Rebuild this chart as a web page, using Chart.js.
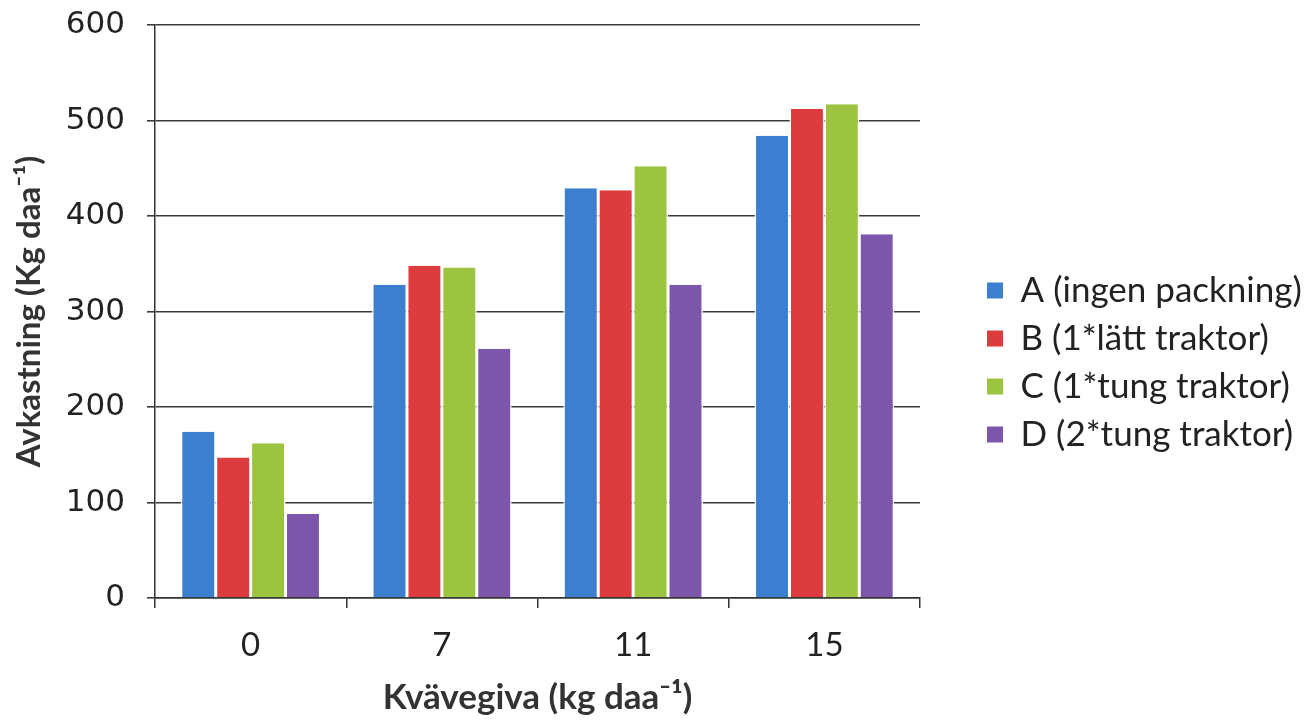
<!DOCTYPE html>
<html>
<head>
<meta charset="utf-8">
<script src="https://cdn.jsdelivr.net/npm/chart.js@4/dist/chart.umd.min.js"></script>
<style>
  html, body { margin: 0; padding: 0; background: #fff; }
  #wrap { width: 1307px; height: 721px; }
</style>
</head>
<body>
<div id="wrap"><canvas id="chart"></canvas></div>
<script>
// kvävegiva (kg daa-1)
const categories = ['0', '7', '11', '15'];
// avkastning per behandling
const seriesA = [174, 328, 429, 484];
const seriesB = [147, 348, 427, 512];
const seriesC = [162, 346, 452, 517];
const seriesD = [88, 261, 328, 381];
const seriesNames = ['A (ingen packning)', 'B (1*lätt traktor)', 'C (1*tung traktor)', 'D (2*tung traktor)'];
const yTicks = [0, 100, 200, 300, 400, 500, 600];

const colors = ['#3c7fcf', '#dc3c3e', '#9cc440', '#7b56aa'];

function ds(i, values) {
  return {
    label: seriesNames[i],
    data: values,
    backgroundColor: colors[i],
    borderColor: '#ffffff',
    borderWidth: { left: 1.5, right: 1.5, top: 0, bottom: 0 },
    borderSkipped: false,
    categoryPercentage: 0.73,
    barPercentage: 1.0
  };
}

// förklaringen: fast bredd och lite luft mot diagrammet
const legendWidth = 387;
const legendShift = 54;
const legendPlacement = {
  id: 'legendPlacement',
  beforeLayout: function (chart) {
    const lg = chart.legend;
    if (!lg || lg._placed) return;
    const fit = lg.fit.bind(lg);
    const draw = lg.draw.bind(lg);
    lg.fit = function () { fit(); this.width = legendWidth; };
    lg.draw = function () {
      const c = this.ctx;
      c.save();
      c.translate(legendShift, 2);
      draw();
      c.restore();
    };
    lg._placed = true;
  }
};

var ctx = document.getElementById('chart').getContext('2d');
var chart = new Chart(ctx, {
  type: 'bar',
  data: {
    labels: categories,
    datasets: [ds(0, seriesA), ds(1, seriesB), ds(2, seriesC), ds(3, seriesD)]
  },
  plugins: [legendPlacement],
  options: {
    responsive: true,
    maintainAspectRatio: false,
    animation: false,
    layout: { padding: 0 },
    plugins: {
      tooltip: { enabled: false },
      legend: {
        position: 'right',
        labels: {
          boxWidth: 16,
          boxHeight: 16,
          padding: 13,
          color: '#222',
          font: { family: 'Lato, "Open Sans", sans-serif', size: 35, lineHeight: 1 },
          generateLabels: function (c) {
            return Chart.defaults.plugins.legend.labels.generateLabels(c).map(function (l) {
              l.lineWidth = 0;
              return l;
            });
          }
        }
      }
    },
    scales: {
      x: {
        grid: {
          offset: true,
          drawOnChartArea: false,
          drawTicks: true,
          tickLength: 10,
          color: '#333',
          lineWidth: 1.5
        },
        border: { color: '#333', width: 1.5 },
        ticks: {
          color: '#222',
          padding: 18,
          font: { family: 'Lato, "Open Sans", sans-serif', size: 33 }
        },
        title: {
          display: true,
          text: 'Kvävegiva (kg daa⁻¹)',
          color: '#333',
          padding: { top: 0, bottom: 2 },
          font: { family: 'Lato, "Open Sans", sans-serif', size: 35, weight: 'bold' }
        },
        afterFit: function (s) { s.height = 123; }
      },
      y: {
        min: 0,
        max: 600,
        afterBuildTicks: function (s) { s.ticks = yTicks.map(v => ({ value: v })); },
        grid: {
          color: '#3a3a3a',
          lineWidth: 1.6,
          tickLength: 8
        },
        border: { color: '#333', width: 1.5 },
        ticks: {
          color: '#222',
          padding: 22,
          font: { family: '"DejaVu Sans", sans-serif', size: 31 }
        },
        title: {
          display: true,
          text: 'Avkastning (Kg daa⁻¹)',
          color: '#333',
          padding: { top: 10, bottom: 0 },
          font: { family: 'Lato, "Open Sans", sans-serif', size: 33, weight: 'bold' }
        },
        afterFit: function (s) {
          s.width = 155;
          s.paddingTop = 25;
          s.paddingBottom = 0;
        }
      }
    }
  }
});
</script>
</body>
</html>
